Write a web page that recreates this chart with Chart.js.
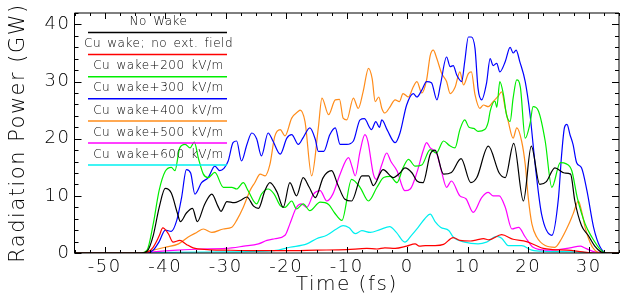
<!DOCTYPE html>
<html>
<head>
<meta charset="utf-8">
<script src="https://cdn.jsdelivr.net/npm/chart.js@4.4.0/dist/chart.umd.min.js"></script>
<style>
  html, body { margin: 0; padding: 0; background: #fff; }
  #wrap { width: 620px; height: 299px; }
</style>
</head>
<body>
<div id="wrap"><canvas id="chart" width="620" height="299"></canvas></div>
<script>
// time axis ticks (fs) and power ticks (GW)
const xTicks = [-50, -40, -30, -20, -10, 0, 10, 20, 30];
const yTicks = [0, 10, 20, 30, 40];

const seriesLabels = [
  'No Wake',
  'Cu wake; no ext. field',
  'Cu wake+200 kV/m',
  'Cu wake+300 kV/m',
  'Cu wake+400 kV/m',
  'Cu wake+500 kV/m',
  'Cu wake+600 kV/m'
];

// No Wake
const tNoWake = [-55, -44, -43, -42, -41, -40, -39, -38, -37.5, -36.5, -35.5, -34.7, -33.5, -32.3, -31.3, -30.8, -29.8, -28.6, -27.6, -26.5, -25.4, -24.6, -23.5, -22.7, -21.5, -20.5, -19.4, -18.3, -17.2, -16.2, -15.2, -13.9, -12.5, -11.5, -10.3, -9.2, -7.5, -6.4, -5.6, -4, -2.3, -1.2, -0.4, 0.8, 1.6, 2.6, 3.8, 4.6, 6, 7.3, 8.9, 10.5, 11.5, 13.4, 15.2, 16.2, 17.6, 19.2, 20.5, 21.9, 23, 24.4, 26, 27, 27.7, 28.8, 29.9, 31, 32, 33, 35];
const pNoWake = [0, 0, 0.3, 3, 8, 11.3, 10.5, 7, 5.5, 7, 7.8, 5.5, 8.5, 10.3, 8.2, 7.3, 9, 8.8, 9.2, 9.8, 8.2, 7.8, 11, 12.3, 10.6, 8, 12.3, 10, 13.2, 11.5, 9.7, 13.2, 14.4, 12, 9.4, 9.1, 13.5, 13.5, 11.8, 14.6, 13.2, 14, 14.9, 14, 12.6, 12.3, 17.3, 18, 13.8, 14.1, 16.5, 12.3, 13.2, 18.7, 14, 13.2, 19.2, 9.1, 18.7, 12, 12.5, 14.9, 14, 13.8, 9.1, 4.8, 3.1, 1.2, 0.2, 0, 0];

// Cu wake, no external field
const tNoField = [-55, -44, -43, -42, -41, -40.4, -39.5, -38.7, -37.6, -36.5, -35.4, -33, -30, -25, -20, -15, -10, -6.7, -5, -3.7, -2, -0.1, 1.3, 2, 3, 4.6, 6, 7.6, 8.7, 10.4, 11.5, 12.6, 13.5, 15.6, 17.5, 19.7, 21.1, 22.5, 24, 26.4, 29, 31, 35];
const pNoField = [0, 0, 0.1, 1, 3, 4.4, 3.4, 1.9, 2.2, 1.5, 0.9, 0.6, 0.5, 0.4, 0.4, 0.5, 0.6, 0.8, 0.7, 0.9, 0.8, 1.2, 1.6, 1.2, 1.3, 1.3, 1.5, 2.7, 2.2, 2.1, 2.3, 2.5, 2.3, 3.2, 2.4, 2, 1.4, 0.8, 0.6, 0.5, 0.2, 0, 0];

// +200 kV/m
const t200 = [-55, -44, -43, -42, -41, -40, -39, -38.4, -37.6, -36.7, -35.9, -35.2, -34.5, -33.7, -32.9, -31.8, -30.4, -29, -28.2, -27.1, -26.3, -24.9, -24.1, -23, -22, -21, -20.2, -19.1, -18.3, -17.2, -16.1, -14.4, -13, -12, -10.8, -9.2, -7.8, -6.4, -5, -3.9, -2.8, -1.7, -0.7, 0.2, 1.3, 2.4, 3.8, 4.8, 6, 7, 7.9, 8.7, 9.5, 10.2, 11, 11.7, 12.8, 13.4, 13.7, 14.5, 14.8, 15.3, 15.9, 16.4, 17, 17.5, 18.1, 18.7, 19.5, 20.3, 20.8, 21.7, 22.8, 23.9, 25.3, 26.3, 27.2, 28.1, 29.4, 30.5, 32, 33, 35];
const p200 = [0, 0, 0.5, 5, 11, 14.3, 15, 14.4, 18.4, 19, 18.4, 19.4, 16.5, 13.8, 13.2, 14.1, 11.5, 11.5, 11.2, 12.3, 10.9, 8.6, 10.3, 11.2, 10.3, 8.3, 8, 9.1, 7.7, 8.6, 7.4, 8.9, 8.5, 7, 5.7, 12.9, 11.5, 9.1, 11.5, 13.2, 13.4, 12.3, 14.9, 16.4, 15.2, 15.4, 18.1, 17.5, 19.6, 18.8, 18.4, 21.6, 23.3, 22, 21.8, 21.3, 21.6, 23, 24.8, 26.6, 25.5, 30, 27.7, 24.2, 23, 27.1, 30.3, 29, 20.1, 22.7, 25.6, 24.8, 19.6, 11.5, 15.8, 15.6, 14.4, 9.7, 5.1, 2.8, 0.5, 0, 0];

// +300 kV/m
const t300 = [-55, -44, -43, -42, -41, -40, -39, -38.1, -37.3, -36.5, -35.8, -35.1, -34, -32.9, -31.8, -31, -30.3, -29.6, -28.8, -28.2, -27.4, -26.5, -25.7, -24.9, -24.1, -23, -22.2, -21, -19.9, -19.1, -18, -17.2, -16.1, -15.2, -14.7, -13.8, -12.8, -11.9, -11.1, -10, -8.9, -7.8, -7.1, -5.9, -5.2, -4.6, -4.2, -3.3, -2, -1.2, -0.1, 1, 1.6, 2.4, 3.2, 4, 4.9, 5.5, 6.5, 7.1, 7.6, 8.2, 9, 9.5, 10.1, 10.6, 11.2, 11.7, 12.3, 13.1, 13.7, 14.2, 14.8, 15.3, 16.2, 17, 17.5, 18, 18.6, 19.5, 20.3, 20.8, 21.2, 22.2, 23.9, 25, 25.5, 26, 26.4, 26.9, 27.4, 28, 28.8, 29.7, 30.8, 31.9, 33, 35];
const p300 = [0, 0, 0, 0.5, 2, 4, 3.8, 5.7, 9.7, 14.6, 14, 10.3, 12.3, 13.2, 15.2, 14.4, 14.8, 16.1, 19.3, 19.6, 16.1, 19, 21, 20, 17, 21, 19.6, 17.3, 20.1, 20.7, 19, 20.2, 21.9, 19.9, 17.8, 17.8, 20.7, 21.9, 19, 19, 19.6, 23.3, 23.5, 21.6, 23, 22, 23.3, 21.5, 19.3, 21, 25.9, 27.9, 27.3, 28.5, 30, 29.8, 26.8, 29.5, 34.3, 32.6, 32.8, 31.1, 30, 33.5, 37.8, 37.8, 35.8, 28.8, 26.8, 29.7, 34, 32.8, 33.2, 31.7, 33.5, 36, 35, 35.5, 33.5, 30, 24.2, 19, 14.9, 6.8, 3.1, 9.7, 17, 22, 22.5, 20.7, 19, 15.8, 14.9, 10.9, 4.5, 1, 0, 0];

// +400 kV/m
const t400 = [-55, -44, -43, -42, -40, -37.8, -36.2, -34.8, -33.7, -32.3, -30.4, -29, -28.2, -27.1, -26, -25.2, -24.3, -23.5, -22.7, -21.9, -21, -20.2, -19.1, -18, -17.7, -16.9, -15.8, -14.7, -14.1, -13, -11.9, -11.2, -10.6, -10, -8.9, -8.1, -7.3, -6.4, -5.8, -5.3, -4.7, -4.2, -3.7, -2.9, -2, -1.3, -0.7, 0.2, 1, 1.6, 2.4, 3.2, 3.8, 4.3, 4.9, 5.7, 6.5, 7.1, 7.9, 8.7, 9.3, 10.1, 10.6, 11.2, 12, 12.6, 13.4, 14.2, 15, 15.6, 16.2, 16.7, 17.5, 18.1, 18.9, 19.5, 20, 20.6, 21.4, 22.8, 24.4, 25.5, 26.6, 27.4, 28.3, 28.8, 29.4, 30.2, 31, 32, 35];
const p400 = [0, 0, 0.2, 0.5, 1, 1.6, 2.8, 3.6, 4.2, 3.6, 4.2, 4.5, 5.7, 8, 10.9, 12.3, 13.8, 13.5, 15.5, 20.4, 21.6, 20.5, 23.6, 24.8, 25, 23, 13.5, 21.9, 27.1, 24.2, 26.8, 26.9, 23.6, 23.3, 27.1, 25.3, 28.2, 32.3, 30.5, 26.5, 27.3, 25.3, 24.5, 25.5, 26.8, 26.5, 27.9, 27.3, 29.1, 30, 28, 30.3, 34.6, 35.5, 34, 31.4, 30, 27.9, 29, 31.7, 29.4, 31.4, 31.7, 27.7, 25.3, 25.9, 25.6, 26.5, 27.4, 28.2, 25.3, 23, 20.1, 21.9, 19.6, 15.5, 9.7, 5.1, 2.8, 1.3, 1, 2.5, 4.8, 6.8, 9.1, 7.4, 4.5, 1.9, 0.5, 0, 0];

// +500 kV/m
const t500 = [-55, -44, -42, -38, -34, -30, -27, -24.6, -23.2, -21.9, -20.2, -19.4, -18.3, -17.5, -16.6, -15.5, -14.4, -13.3, -12.3, -11.1, -9.7, -9.1, -8.6, -7.8, -7, -6.5, -5.6, -5.1, -4.2, -3.4, -2.7, -1.7, -0.4, 0.5, 1.6, 2.6, 3.2, 3.8, 4.9, 5.7, 6.5, 7.3, 8.7, 9.7, 10.9, 12.3, 13.4, 14.2, 15.2, 16.2, 17.3, 18.4, 19.5, 20.8, 23, 25, 26.9, 28.6, 29.5, 31, 35];
const p500 = [0, 0, 0.2, 0.5, 0.7, 0.8, 1.2, 1.6, 2.2, 2.5, 3.1, 5.1, 8, 8.6, 8, 10.3, 10.9, 9.1, 10.3, 13.8, 16.7, 15, 13.5, 17.8, 20.7, 19.5, 13.8, 12.9, 15.5, 17.5, 16, 14.4, 10.9, 11.2, 14.1, 17.8, 19.3, 18.4, 17.3, 14.1, 11.5, 12.6, 10, 9.5, 7.1, 9.7, 10.6, 10, 10, 8, 4.2, 4.5, 2.8, 1, 0.5, 0.6, 0.9, 1.2, 0.8, 0.2, 0];

// +600 kV/m
const t600 = [-55, -44, -40, -30, -22, -19.4, -16.6, -15, -13.3, -11.7, -10.6, -9.6, -8.6, -7.5, -6.1, -4.5, -2.9, -1.8, -0.4, 0.7, 1.8, 2.9, 3.8, 4.6, 5.5, 6.9, 7.6, 9.5, 11.7, 13.1, 14.8, 15.6, 16.7, 18.9, 20.6, 23, 28, 31, 35];
const p600 = [0, 0, 0.1, 0.2, 0.4, 1, 1.6, 2.5, 3.1, 4.2, 4.8, 4.4, 3.4, 3.9, 3.6, 4.1, 4.6, 3.6, 1.9, 3.1, 4.5, 6, 6.8, 5.5, 4.5, 3.9, 2.8, 1.9, 1.6, 1.9, 2.9, 2.6, 1.3, 1.3, 0.5, 0.3, 0.2, 0, 0];

const times = [tNoWake, tNoField, t200, t300, t400, t500, t600];
const powers = [pNoWake, pNoField, p200, p300, p400, p500, p600];
const colors = ['#000000', '#ff0000', '#00ee00', '#0000ff', '#ff8c1a', '#ff00ff', '#00f0f0'];

const FONT = "'DejaVu Sans', sans-serif";
const WEIGHT = 200;

const pts = (t, p) => t.map((x, i) => ({ x, y: p[i] }));

// IDL-style box with inward ticks on all four sides
const frameTicks = {
  id: 'frameTicks',
  beforeDraw(chart) {
    chart.ctx.letterSpacing = '1.5px';
  },
  afterDraw(chart) {
    const { ctx, chartArea: a, scales: { x, y } } = chart;
    ctx.save();
    ctx.letterSpacing = '0px';
    ctx.strokeStyle = '#000';
    ctx.lineWidth = 1;
    ctx.beginPath();
    ctx.rect(a.left, a.top, a.right - a.left, a.bottom - a.top);
    for (let v = -55; v <= 35; v += 2.5) {
      const px = Math.round(x.getPixelForValue(v)) + 0.5;
      const len = v % 10 === 0 ? 6 : 3;
      ctx.moveTo(px, a.bottom); ctx.lineTo(px, a.bottom - len);
      ctx.moveTo(px, a.top); ctx.lineTo(px, a.top + len);
    }
    for (let v = 0; v <= 42; v += 2) {
      const py = Math.round(y.getPixelForValue(v)) + 0.5;
      const len = v % 10 === 0 ? 7 : 4;
      ctx.moveTo(a.left, py); ctx.lineTo(a.left + len, py);
      ctx.moveTo(a.right, py); ctx.lineTo(a.right - len, py);
    }
    ctx.stroke();
    ctx.restore();
  }
};

// legend: centred label with a coloured line under it
const lineLegend = {
  id: 'lineLegend',
  afterDraw(chart) {
    const { ctx } = chart;
    const x0 = 88, x1 = 227, y0 = 32.5, step = 22.1;
    ctx.save();
    ctx.letterSpacing = '0.5px';
    ctx.wordSpacing = '2px';
    ctx.font = WEIGHT + " 12px " + FONT;
    ctx.textAlign = 'center';
    ctx.textBaseline = 'middle';
    ctx.fillStyle = '#000';
    ctx.lineWidth = 1.5;
    chart.data.datasets.forEach((ds, i) => {
      const ly = y0 + i * step;
      ctx.fillText(ds.label, (x0 + x1) / 2 + 1, ly - 10.5);
      ctx.strokeStyle = ds.borderColor;
      ctx.beginPath();
      ctx.moveTo(x0, ly);
      ctx.lineTo(x1, ly);
      ctx.stroke();
    });
    ctx.letterSpacing = '0px';
    ctx.wordSpacing = '0px';
    ctx.restore();
  }
};

new Chart(document.getElementById('chart'), {
  type: 'line',
  data: {
    datasets: seriesLabels.map((label, i) => ({
      label,
      data: pts(times[i], powers[i]),
      borderColor: colors[i],
      borderWidth: 1.2,
      pointRadius: 0,
      cubicInterpolationMode: 'monotone',
      fill: false
    }))
  },
  options: {
    responsive: false,
    devicePixelRatio: 1,
    animation: false,
    layout: { padding: { top: 10, right: 1, left: 0, bottom: 0 } },
    plugins: { legend: { display: false }, tooltip: { enabled: false } },
    scales: {
      x: {
        type: 'linear',
        min: -55,
        max: 35,
        afterBuildTicks: s => { s.ticks = xTicks.map(value => ({ value })); },
        afterFit: s => { s.height = 46; },
        grid: { display: false, drawTicks: false },
        border: { display: false },
        ticks: { color: '#000', padding: 5, font: { family: FONT, weight: WEIGHT, size: 18, lineHeight: 1 } },
        title: {
          display: true,
          text: 'Time (fs)',
          color: '#000',
          padding: { top: 0, bottom: 4 },
          font: { family: FONT, weight: WEIGHT, size: 20, lineHeight: 1 }
        }
      },
      y: {
        type: 'linear',
        min: 0,
        max: 42,
        afterBuildTicks: s => { s.ticks = yTicks.map(value => ({ value })); },
        afterFit: s => { s.width = 74.5; },
        grid: { display: false, drawTicks: false },
        border: { display: false },
        ticks: { color: '#000', padding: 4, font: { family: FONT, weight: WEIGHT, size: 18, lineHeight: 1 } },
        title: {
          display: true,
          text: 'Radiation Power (GW)',
          color: '#000',
          padding: { top: 8, bottom: 0 },
          font: { family: FONT, weight: WEIGHT, size: 21, lineHeight: 1 }
        }
      }
    }
  },
  plugins: [frameTicks, lineLegend]
});
</script>
</body>
</html>
